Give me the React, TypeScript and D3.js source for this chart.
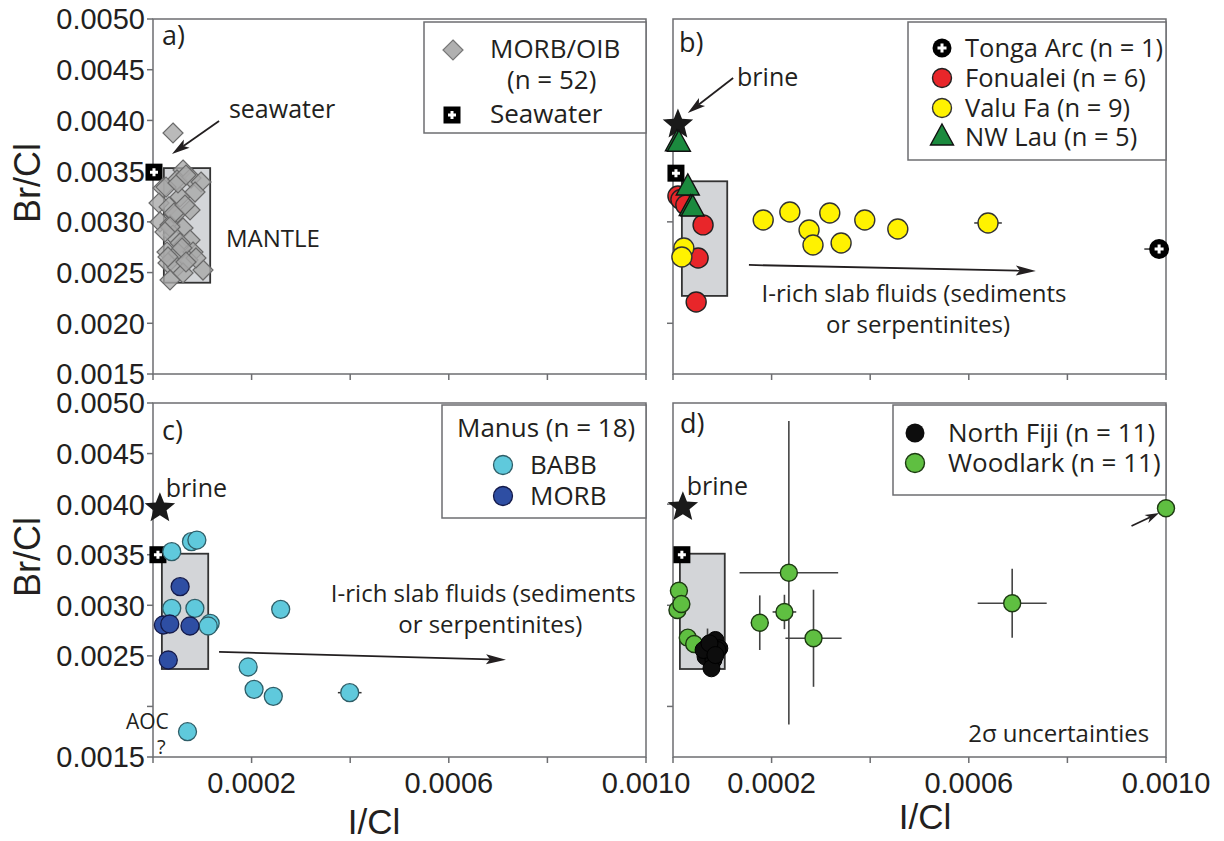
import React from 'react';
import * as d3 from 'd3';

// ---------- data (I/Cl, Br/Cl) ----------
const xTickValues = [0, 0.0002, 0.0004, 0.0006, 0.0008, 0.001];
const xTickLabels = ['', '0.0002', '', '0.0006', '', '0.0010'];
const yTickValues = [0.0015, 0.002, 0.0025, 0.003, 0.0035, 0.004, 0.0045, 0.005];
const yTickLabelsA = ['0.0015', '0.0020', '0.0025', '0.0030', '0.0035', '0.0040', '0.0045', '0.0050'];
const yTickLabelsC = ['0.0015', '', '0.0025', '0.0030', '0.0035', '0.0040', '0.0045', '0.0050'];
const yTickValuesRight = [0.002, 0.003, 0.004];

// MORB/OIB glasses
const morbOib: [number, number][] = [
  [0.0000406, 0.003876], [0.0000609, 0.003511], [0.0000487, 0.003413], [0.0000771, 0.003432],
  [0.0000974, 0.003393], [0.0000203, 0.003334], [0.0000548, 0.003245], [0.0000122, 0.003186],
  [0.0000325, 0.003147], [0.0000751, 0.003117], [0.0000446, 0.003068], [0.0000142, 0.002999],
  [0.0000345, 0.002969], [0.0000609, 0.002939], [0.0000406, 0.00287], [0.0000751, 0.002821],
  [0.0000548, 0.002792], [0.0000284, 0.002703], [0.0000507, 0.002693], [0.0000811, 0.002703],
  [0.0000304, 0.002594], [0.0000487, 0.002555], [0.000071, 0.002624], [0.0001014, 0.002525],
  [0.0000345, 0.002427], [0.0000609, 0.002496], [0.0000264, 0.003343], [0.0000507, 0.003383],
  [0.0000669, 0.003462], [0.0000426, 0.003087], [0.0000588, 0.002742], [0.0000304, 0.002654],
  [0.0000872, 0.002644], [0.0000345, 0.00295], [0.0000669, 0.002604], [0.0000243, 0.0029],
  [0.0000852, 0.003294], [0.0000649, 0.003166],
];

// Tonga-Kermadec (panel b)
const tongaArc: [number, number, number][] = [[0.000986, 0.002732, 0.00003]];
const fonualei: [number, number][] = [
  [0.00001, 0.003255], [0.000016, 0.00322], [0.000026, 0.003166],
  [0.000061, 0.00297], [0.000051, 0.002644], [0.000047, 0.00221],
];
const valuFa: [number, number, number][] = [
  [0.000022, 0.002742, 0], [0.000018, 0.002654, 0],
  [0.000183, 0.003018, 0], [0.000237, 0.003097, 0], [0.000276, 0.00292, 0],
  [0.000284, 0.002772, 0], [0.000318, 0.003087, 0], [0.000341, 0.002792, 0],
  [0.000389, 0.003018, 0], [0.000456, 0.00293, 0], [0.000639, 0.002989, 0.000028],
];
const nwLau: [number, number][] = [
  [0.000008, 0.00378], [0.000012, 0.003775], [0.00003, 0.003344], [0.000036, 0.00314], [0.00004, 0.003137],
];

// Manus basin (panel c)
const manusBabb: [number, number, number][] = [
  [0.000038, 0.00353, 0], [0.000078, 0.003629, 0], [0.000089, 0.003645, 0],
  [0.000038, 0.00297, 0], [0.000085, 0.00297, 0], [0.000116, 0.002822, 0],
  [0.000112, 0.002795, 0], [0.000193, 0.00239, 0], [0.000205, 0.002169, 0],
  [0.000244, 0.0021, 0], [0.000259, 0.00296, 0], [0.000399, 0.002136, 0.000024],
  [0.00007, 0.00175, 0],
];
const manusMorb: [number, number][] = [
  [0.000055, 0.003184], [0.000021, 0.002805], [0.000034, 0.002815], [0.000075, 0.002795], [0.000031, 0.002459],
];

// North Fiji and Woodlark (panel d) with 2-sigma errors
const northFiji: [number, number, number][] = [
  [0.00007, 0.00259, 0.00018], [0.000086, 0.002657, 0], [0.000094, 0.002575, 0],
  [0.000078, 0.002525, 0], [0.000066, 0.002492, 0], [0.000082, 0.002459, 0],
  [0.000078, 0.002377, 0], [0.00009, 0.002558, 0], [0.000062, 0.002558, 0],
  [0.000074, 0.002624, 0], [0.000086, 0.002508, 0],
];
const woodlark: [number, number, number, number][] = [
  [0.000012, 0.003144, 0, 0], [0.000009, 0.002953, 0, 0], [0.000017, 0.003013, 0, 0],
  [0.00003, 0.00268, 0, 0], [0.000043, 0.002617, 0, 0],
  [0.000176, 0.002828, 0.000018, 0.00027], [0.000226, 0.002934, 0.000024, 0.00017],
  [0.000235, 0.003322, 0.0001, 0.0015], [0.000285, 0.002674, 0.000057, 0.00048],
  [0.000688, 0.00302, 0.00007, 0.00034], [0.001, 0.00396, 0, 0],
];

// reference fields: [I/Cl min, I/Cl max, Br/Cl min, Br/Cl max]
const mantleA = [0.000022, 0.000116, 0.0024, 0.00353];
const mantleB = [0.000018, 0.00011, 0.00227, 0.0034];
const mantleC = [0.000018, 0.000112, 0.00237, 0.00351];
const mantleD = [0.000014, 0.000105, 0.00237, 0.00351];
const seawaterA = [0.000002, 0.00349];
const seawaterB = [0.000006, 0.00348];
const seawaterC = [0.00001, 0.0035];
const seawaterD = [0.000018, 0.0035];
const brineB = [0.00001, 0.00396];
const brineC = [0.000014, 0.00396];
const brineD = [0.00002, 0.00397];

// ---------- styling ----------
const NUM_FONT = '"Liberation Sans", Arial, sans-serif';
const TXT_FONT = '"Open Sans", "Noto Sans", sans-serif';
const INK = '#231f20';
const FRAME = '#6d6e71';

const C_RED = '#e8262a';
const C_YEL = '#fff200';
const C_TRI = '#1b8a3e';
const C_CYAN = '#5fc9dc';
const C_NAVY = '#2e4ea3';
const C_LGREEN = '#5fbf41';

type Geo = { l: number; r: number; t: number; b: number };
const GEO: Record<string, Geo> = {
  a: { l: 153, r: 646, t: 19, b: 374 },
  b: { l: 673, r: 1166, t: 19, b: 374 },
  c: { l: 153, r: 646, t: 403, b: 757 },
  d: { l: 673, r: 1166, t: 403, b: 757 },
};

function scales(g: Geo) {
  const x = d3.scaleLinear().domain([0, 0.001]).range([g.l, g.r]);
  const y = d3.scaleLinear().domain([0.0015, 0.005]).range([g.b, g.t]);
  return { x, y };
}

function starPath(R: number, r: number) {
  const pts: [number, number][] = [];
  for (let i = 0; i < 10; i++) {
    const a = -Math.PI / 2 + (i * Math.PI) / 5;
    const rad = i % 2 === 0 ? R : r;
    pts.push([Math.cos(a) * rad, Math.sin(a) * rad]);
  }
  return d3.line()(pts) + 'Z';
}
const diamondPath = (s: number) => `M0,${-s}L${s},0L0,${s}L${-s},0Z`;
const trianglePath = (w: number, h: number) => `M0,${-h * 0.62}L${w / 2},${h * 0.38}L${-w / 2},${h * 0.38}Z`;

function Arrow({ x1, y1, x2, y2, head = 18, half = 5 }: any) {
  const dx = x2 - x1, dy = y2 - y1;
  const len = Math.hypot(dx, dy);
  const ux = dx / len, uy = dy / len;
  const bx = x2 - ux * head, by = y2 - uy * head;
  const px = -uy * half, py = ux * half;
  return (
    <g>
      <line x1={x1} y1={y1} x2={bx + ux * 4} y2={by + uy * 4} stroke={INK} strokeWidth={1.8} />
      <path d={`M${x2},${y2}L${bx + px},${by + py}L${bx + ux * 4},${by + uy * 4}L${bx - px},${by - py}Z`} fill={INK} />
    </g>
  );
}

function SeawaterMark({ cx, cy, s = 17 }: any) {
  return (
    <g transform={`translate(${cx},${cy})`}>
      <rect x={-s / 2} y={-s / 2} width={s} height={s} fill="#000" />
      <path d={`M-4,0H4M0,-4V4`} stroke="#fff" strokeWidth={3} />
    </g>
  );
}

function TongaMark({ cx, cy, r = 10 }: any) {
  return (
    <g transform={`translate(${cx},${cy})`}>
      <circle r={r} fill="#000" />
      <path d={`M-4.5,0H4.5M0,-4.5V4.5`} stroke="#fff" strokeWidth={3} />
    </g>
  );
}

function Axes({ g, yLabels, rightTicks, xLabels }: any) {
  const { x, y } = scales(g);
  const yt = rightTicks ? yTickValuesRight : yTickValues;
  return (
    <g>
      <rect x={g.l} y={g.t} width={g.r - g.l} height={g.b - g.t} fill="none" stroke={FRAME} strokeWidth={1.5} />
      {yt.map((v: number) => (
        <line key={v} x1={g.l - 6} x2={g.l} y1={y(v)} y2={y(v)} stroke={FRAME} strokeWidth={1.5} />
      ))}
      {yLabels &&
        yTickValues.map((v, i) => (
          <text key={'yl' + v} x={g.l - 8} y={y(v)} dy="0.36em" textAnchor="end" fontFamily={NUM_FONT} fontSize={29} fill={INK}>
            {yLabels[i]}
          </text>
        ))}
      {xTickValues.map((v) => (
        <line key={'xt' + v} x1={x(v)} x2={x(v)} y1={g.b} y2={g.b + 6} stroke={FRAME} strokeWidth={1.5} />
      ))}
      {xLabels &&
        xTickValues.map((v, i) => (
          <text key={'xl' + v} x={x(v)} y={g.b + 36} textAnchor="middle" fontFamily={NUM_FONT} fontSize={29} fill={INK}>
            {xLabels[i]}
          </text>
        ))}
    </g>
  );
}

function Mantle({ g, box }: any) {
  const { x, y } = scales(g);
  return (
    <rect x={x(box[0])} y={y(box[3])} width={x(box[1]) - x(box[0])} height={y(box[2]) - y(box[3])}
      fill="#d3d5d8" stroke="#333" strokeWidth={1.8} />
  );
}

const txt = (size = 24) => ({ fontFamily: TXT_FONT, fontSize: size, fill: INK });

function PanelA() {
  const g = GEO.a;
  const { x, y } = scales(g);
  return (
    <g>
      <Axes g={g} yLabels={yTickLabelsA} />
      <Mantle g={g} box={mantleA} />
      <SeawaterMark cx={x(seawaterA[0])} cy={y(seawaterA[1])} />
      {morbOib.map((p, i) => (
        <path key={i} d={diamondPath(10)} transform={`translate(${x(p[0])},${y(p[1])})`}
          fill="#a9a9a9" fillOpacity={0.8} stroke="#6a6a6a" strokeWidth={1.2} />
      ))}
      <text x={g.l + 9} y={g.t + 26} {...txt(27)}>a)</text>
      <text x={x(0.000154)} y={y(0.004024)} {...txt(25)}>seawater</text>
      <Arrow x1={x(0.000134)} y1={y(0.003994)} x2={x(0.0000385)} y2={y(0.003669)} />
      <text x={x(0.000148)} y={y(0.002752)} {...txt(24)}>MANTLE</text>
      {/* legend */}
      <rect x={424} y={22} width={g.r - 424} height={111} fill="#fff" stroke={FRAME} strokeWidth={1.5} />
      <path d={diamondPath(10)} transform="translate(453,50)" fill="#b0b0b0" stroke="#777" strokeWidth={1.2} />
      <text x={490} y={58} {...txt(26)}>MORB/OIB</text>
      <text x={507} y={89} {...txt(26)}>(n = 52)</text>
      <SeawaterMark cx={452} cy={115} s={17} />
      <text x={490} y={123} {...txt(26)}>Seawater</text>
    </g>
  );
}

function PanelB() {
  const g = GEO.b;
  const { x, y } = scales(g);
  return (
    <g>
      <Axes g={g} rightTicks />
      <Mantle g={g} box={mantleB} />
      <SeawaterMark cx={x(seawaterB[0])} cy={y(seawaterB[1])} />
      <path d={starPath(16, 7)} transform={`translate(${x(brineB[0])},${y(brineB[1])})`} fill="#1a1a1a" />
      {fonualei.map((p, i) => (
        <circle key={'f' + i} cx={x(p[0])} cy={y(p[1])} r={10} fill={C_RED} stroke="#222" strokeWidth={1.4} />
      ))}
      {valuFa.map((p, i) => (
        <g key={'v' + i}>
          {p[2] > 0 && <line x1={x(p[0] - p[2])} x2={x(p[0] + p[2])} y1={y(p[1])} y2={y(p[1])} stroke="#333" strokeWidth={1.5} />}
          <circle cx={x(p[0])} cy={y(p[1])} r={10} fill={C_YEL} stroke="#333" strokeWidth={1.4} />
        </g>
      ))}
      {nwLau.map((p, i) => (
        <path key={'t' + i} d={trianglePath(23, 21)} transform={`translate(${x(p[0])},${y(p[1])})`}
          fill={C_TRI} stroke="#111" strokeWidth={1.4} />
      ))}
      {tongaArc.map((p, i) => (
        <g key={'tg' + i}>
          <line x1={x(p[0] - p[2])} x2={x(p[0])} y1={y(p[1])} y2={y(p[1])} stroke="#333" strokeWidth={1.5} />
          <TongaMark cx={x(p[0])} cy={y(p[1])} />
        </g>
      ))}
      <text x={g.l + 6} y={g.t + 33} {...txt(27)}>b)</text>
      <text x={x(0.00013)} y={y(0.00434)} {...txt(25)}>brine</text>
      <Arrow x1={x(0.000122)} y1={y(0.004418)} x2={x(0.00003)} y2={y(0.004073)} />
      <Arrow x1={x(0.000154)} y1={y(0.002575)} x2={x(0.000736)} y2={y(0.002516)} head={20} />
      <text x={x(0.000489)} y={y(0.00221)} textAnchor="middle" {...txt(24)}>I-rich slab fluids (sediments</text>
      <text x={x(0.000497)} y={y(0.001904)} textAnchor="middle" {...txt(24)}>or serpentinites)</text>
      {/* legend */}
      <rect x={908} y={22} width={g.r - 908} height={138} fill="#fff" stroke={FRAME} strokeWidth={1.5} />
      <TongaMark cx={942} cy={48} r={9.5} />
      <text x={965} y={57} {...txt(25.5)}>Tonga Arc (n = 1)</text>
      <circle cx={942} cy={78} r={9.5} fill={C_RED} stroke="#222" strokeWidth={1.4} />
      <text x={965} y={87} {...txt(25.5)}>Fonualei (n = 6)</text>
      <circle cx={942} cy={108} r={9.5} fill={C_YEL} stroke="#333" strokeWidth={1.4} />
      <text x={965} y={117} {...txt(25.5)}>Valu Fa (n = 9)</text>
      <path d={trianglePath(23, 21)} transform="translate(942,137)" fill={C_TRI} stroke="#111" strokeWidth={1.4} />
      <text x={965} y={146} {...txt(25.5)}>NW Lau (n = 5)</text>
    </g>
  );
}

function PanelC() {
  const g = GEO.c;
  const { x, y } = scales(g);
  return (
    <g>
      <Axes g={g} yLabels={yTickLabelsC} xLabels={xTickLabels} />
      <Mantle g={g} box={mantleC} />
      <SeawaterMark cx={x(seawaterC[0])} cy={y(seawaterC[1])} />
      <path d={starPath(16, 7)} transform={`translate(${x(brineC[0])},${y(brineC[1])})`} fill="#1a1a1a" />
      {manusBabb.map((p, i) => (
        <g key={'bb' + i}>
          {p[2] > 0 && <line x1={x(p[0] - p[2])} x2={x(p[0] + p[2])} y1={y(p[1])} y2={y(p[1])} stroke="#333" strokeWidth={1.5} />}
          <circle cx={x(p[0])} cy={y(p[1])} r={9} fill={C_CYAN} stroke="#2f5e68" strokeWidth={1.3} />
        </g>
      ))}
      {manusMorb.map((p, i) => (
        <circle key={'mm' + i} cx={x(p[0])} cy={y(p[1])} r={9} fill={C_NAVY} stroke="#141a4a" strokeWidth={1.3} />
      ))}
      <text x={g.l + 9} y={g.t + 37} {...txt(27)}>c)</text>
      <text x={x(0.000026)} y={y(0.004071)} {...txt(25)}>brine</text>
      <Arrow x1={x(0.000134)} y1={y(0.00254)} x2={x(0.000716)} y2={y(0.002461)} head={20} />
      <text x={x(0.00067)} y={y(0.003033)} textAnchor="middle" {...txt(24)}>I-rich slab fluids (sediments</text>
      <text x={x(0.000684)} y={y(0.002726)} textAnchor="middle" {...txt(24)}>or serpentinites)</text>
      <text x={x(-0.0000548)} y={y(0.001777)} {...txt(21)}>AOC</text>
      <text x={x(0.000008)} y={y(0.00153)} {...txt(20)}>?</text>
      {/* legend */}
      <rect x={442} y={405} width={g.r - 442} height={113} fill="#fff" stroke={FRAME} strokeWidth={1.5} />
      <text x={457} y={437} {...txt(26)}>Manus (n = 18)</text>
      <circle cx={503} cy={465} r={9.5} fill={C_CYAN} stroke="#2f5e68" strokeWidth={1.3} />
      <text x={530} y={474} {...txt(26)}>BABB</text>
      <circle cx={503} cy={496} r={9.5} fill={C_NAVY} stroke="#141a4a" strokeWidth={1.3} />
      <text x={530} y={505} {...txt(26)}>MORB</text>
    </g>
  );
}

function PanelD() {
  const g = GEO.d;
  const { x, y } = scales(g);
  return (
    <g>
      <Axes g={g} rightTicks xLabels={xTickLabels} />
      <Mantle g={g} box={mantleD} />
      <SeawaterMark cx={x(seawaterD[0])} cy={y(seawaterD[1])} />
      <path d={starPath(16, 7)} transform={`translate(${x(brineD[0])},${y(brineD[1])})`} fill="#1a1a1a" />
      {woodlark.map((p, i) => (
        <g key={'w' + i}>
          {p[2] > 0 && <line x1={x(p[0] - p[2])} x2={x(p[0] + p[2])} y1={y(p[1])} y2={y(p[1])} stroke="#444" strokeWidth={1.6} />}
          {p[3] > 0 && <line x1={x(p[0])} x2={x(p[0])} y1={y(p[1] - p[3])} y2={y(p[1] + p[3])} stroke="#444" strokeWidth={1.6} />}
        </g>
      ))}
      {woodlark.map((p, i) => (
        <circle key={'wc' + i} cx={x(p[0])} cy={y(p[1])} r={8.5} fill={C_LGREEN} stroke="#1d3a12" strokeWidth={1.4} />
      ))}
      {northFiji.map((p, i) =>
        p[2] > 0 ? (
          <line key={'ne' + i} x1={x(p[0])} x2={x(p[0])} y1={y(p[1] - p[2])} y2={y(p[1] + p[2])} stroke="#444" strokeWidth={1.6} />
        ) : null
      )}
      {northFiji.map((p, i) => (
        <circle key={'n' + i} cx={x(p[0])} cy={y(p[1])} r={8.5} fill="#0d0d0d" stroke="#000" strokeWidth={1} />
      ))}
      <text x={g.l + 7} y={g.t + 30} {...txt(27)}>d)</text>
      <text x={x(0.000028)} y={y(0.00409)} {...txt(25)}>brine</text>
      <Arrow x1={x(0.00093)} y1={y(0.003784)} x2={x(0.000986)} y2={y(0.003912)} head={14} half={4.5} />
      <text x={x(0.000966)} y={y(0.001648)} textAnchor="end" {...txt(24)}>2σ uncertainties</text>
      {/* legend */}
      <rect x={893} y={405} width={g.r - 893} height={90} fill="#fff" stroke={FRAME} strokeWidth={1.5} />
      <circle cx={915} cy={433} r={9.5} fill="#0d0d0d" />
      <text x={948} y={442} {...txt(26)}>North Fiji (n = 11)</text>
      <circle cx={915} cy={463} r={9.5} fill={C_LGREEN} stroke="#1d3a12" strokeWidth={1.4} />
      <text x={948} y={472} {...txt(26)}>Woodlark (n = 11)</text>
    </g>
  );
}

export default function App() {
  return (
    <svg width={1224} height={841} viewBox="0 0 1224 841"
      style={{ position: 'absolute', left: 0, top: 0, background: '#fff' }}>
      <rect width={1224} height={841} fill="#fff" />
      <PanelA />
      <PanelB />
      <PanelC />
      <PanelD />
      {/* axis titles */}
      <text transform="translate(40,183) rotate(-90)" textAnchor="middle" fontFamily={NUM_FONT} fontSize={36} fill={INK}>Br/Cl</text>
      <text transform="translate(40,557) rotate(-90)" textAnchor="middle" fontFamily={NUM_FONT} fontSize={36} fill={INK}>Br/Cl</text>
      <text x={374} y={834} textAnchor="middle" fontFamily={NUM_FONT} fontSize={35} fill={INK}>I/Cl</text>
      <text x={925} y={829} textAnchor="middle" fontFamily={NUM_FONT} fontSize={35} fill={INK}>I/Cl</text>
    </svg>
  );
}
